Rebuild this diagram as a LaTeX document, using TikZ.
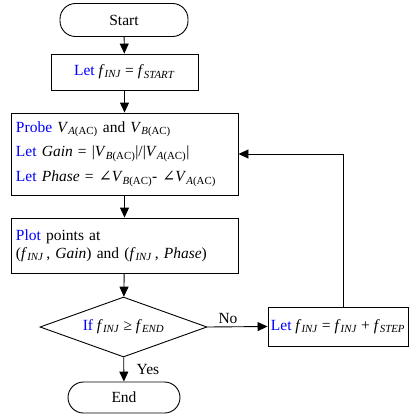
\documentclass[tikz,border=0pt]{standalone}
\usepackage{fontspec}
\setmainfont{Liberation Serif}
\newfontfamily\symf{DejaVu Serif}
\usetikzlibrary{shapes.geometric,arrows.meta}
\newcommand\fsub[1]{\textit{f}\textsubscript{\textit{#1}}}
\newcommand\vsub[1]{\textit{V}\textsubscript{\textit{#1}(AC)}}
\newcommand\kw[1]{\textcolor{kwblue}{#1}}
\newcommand\ang{{\symf\char"2220}}
\definecolor{kwblue}{RGB}{0,0,255}
\begin{document}
\begin{tikzpicture}[x=1pt,y=1pt,
  font=\fontsize{15.5}{18}\selectfont,
  every node/.style={line width=0.9pt},
  term/.style={draw,rounded corners=15.5pt,inner sep=0pt},
  proc/.style={draw,inner sep=5pt},
  dec/.style={draw,diamond,aspect=2.78,inner sep=0pt,minimum width=167pt,minimum height=60pt},
  conn/.style={line width=0.9pt,-{Triangle[length=10pt,width=9pt]}},
  lbl/.style={inner sep=0pt}]
\useasboundingbox (0,0) rectangle (410,-415);
\node[term,minimum width=128pt,minimum height=33pt] (start) at (124,-20) {Start};
\node[proc,minimum width=147pt,minimum height=36pt] (init) at (124.5,-72) {\kw{Let} \fsub{INJ} = \fsub{START}};
\node[proc,minimum width=227pt,minimum height=82pt,text width=217pt,align=left] (probe) at (124.5,-154)
  {\kw{Probe} \vsub{A} and \vsub{B}\\[6.5pt]
   \kw{Let} \textit{Gain} = |\vsub{B}|/|\vsub{A}|\\[7pt]
   \kw{Let} \textit{Phase} = \ang\vsub{B}- \ang\vsub{A}};
\node[proc,minimum width=227pt,minimum height=55pt,text width=217pt,align=left] (plot) at (124.5,-245.5)
  {\kw{Plot} points at\\
   (\fsub{INJ}\,, \textit{Gain}) and (\fsub{INJ}\,, \textit{Phase})};
\node[dec] (test) at (123.5,-327) {\kw{If} \fsub{INJ} ≥ \fsub{END}};
\node[proc,inner sep=0pt,minimum width=140pt,minimum height=39pt] (step) at (338,-326.5)
  {\kw{Let} \fsub{INJ} = \fsub{INJ} + \fsub{STEP}};
\node[term,minimum width=112pt,minimum height=31pt] (end) at (124,-397.5) {End};
\coordinate (up) at (343,-307);
\coordinate (corner) at (343,-154);
\draw[conn] (start) -- (init);
\draw[conn] (init) -- (probe);
\draw[conn] (probe) -- (plot);
\draw[conn] (plot) -- (test);
\draw[conn] (test) -- (end);
\draw[conn] (test.east) -- (step.west);
\draw[conn] (up) -- (corner) -- (probe.east);
\node[lbl] (no) at (228,-318) {No};
\node[lbl] (yes) at (148,-369) {Yes};
\end{tikzpicture}
\end{document}
